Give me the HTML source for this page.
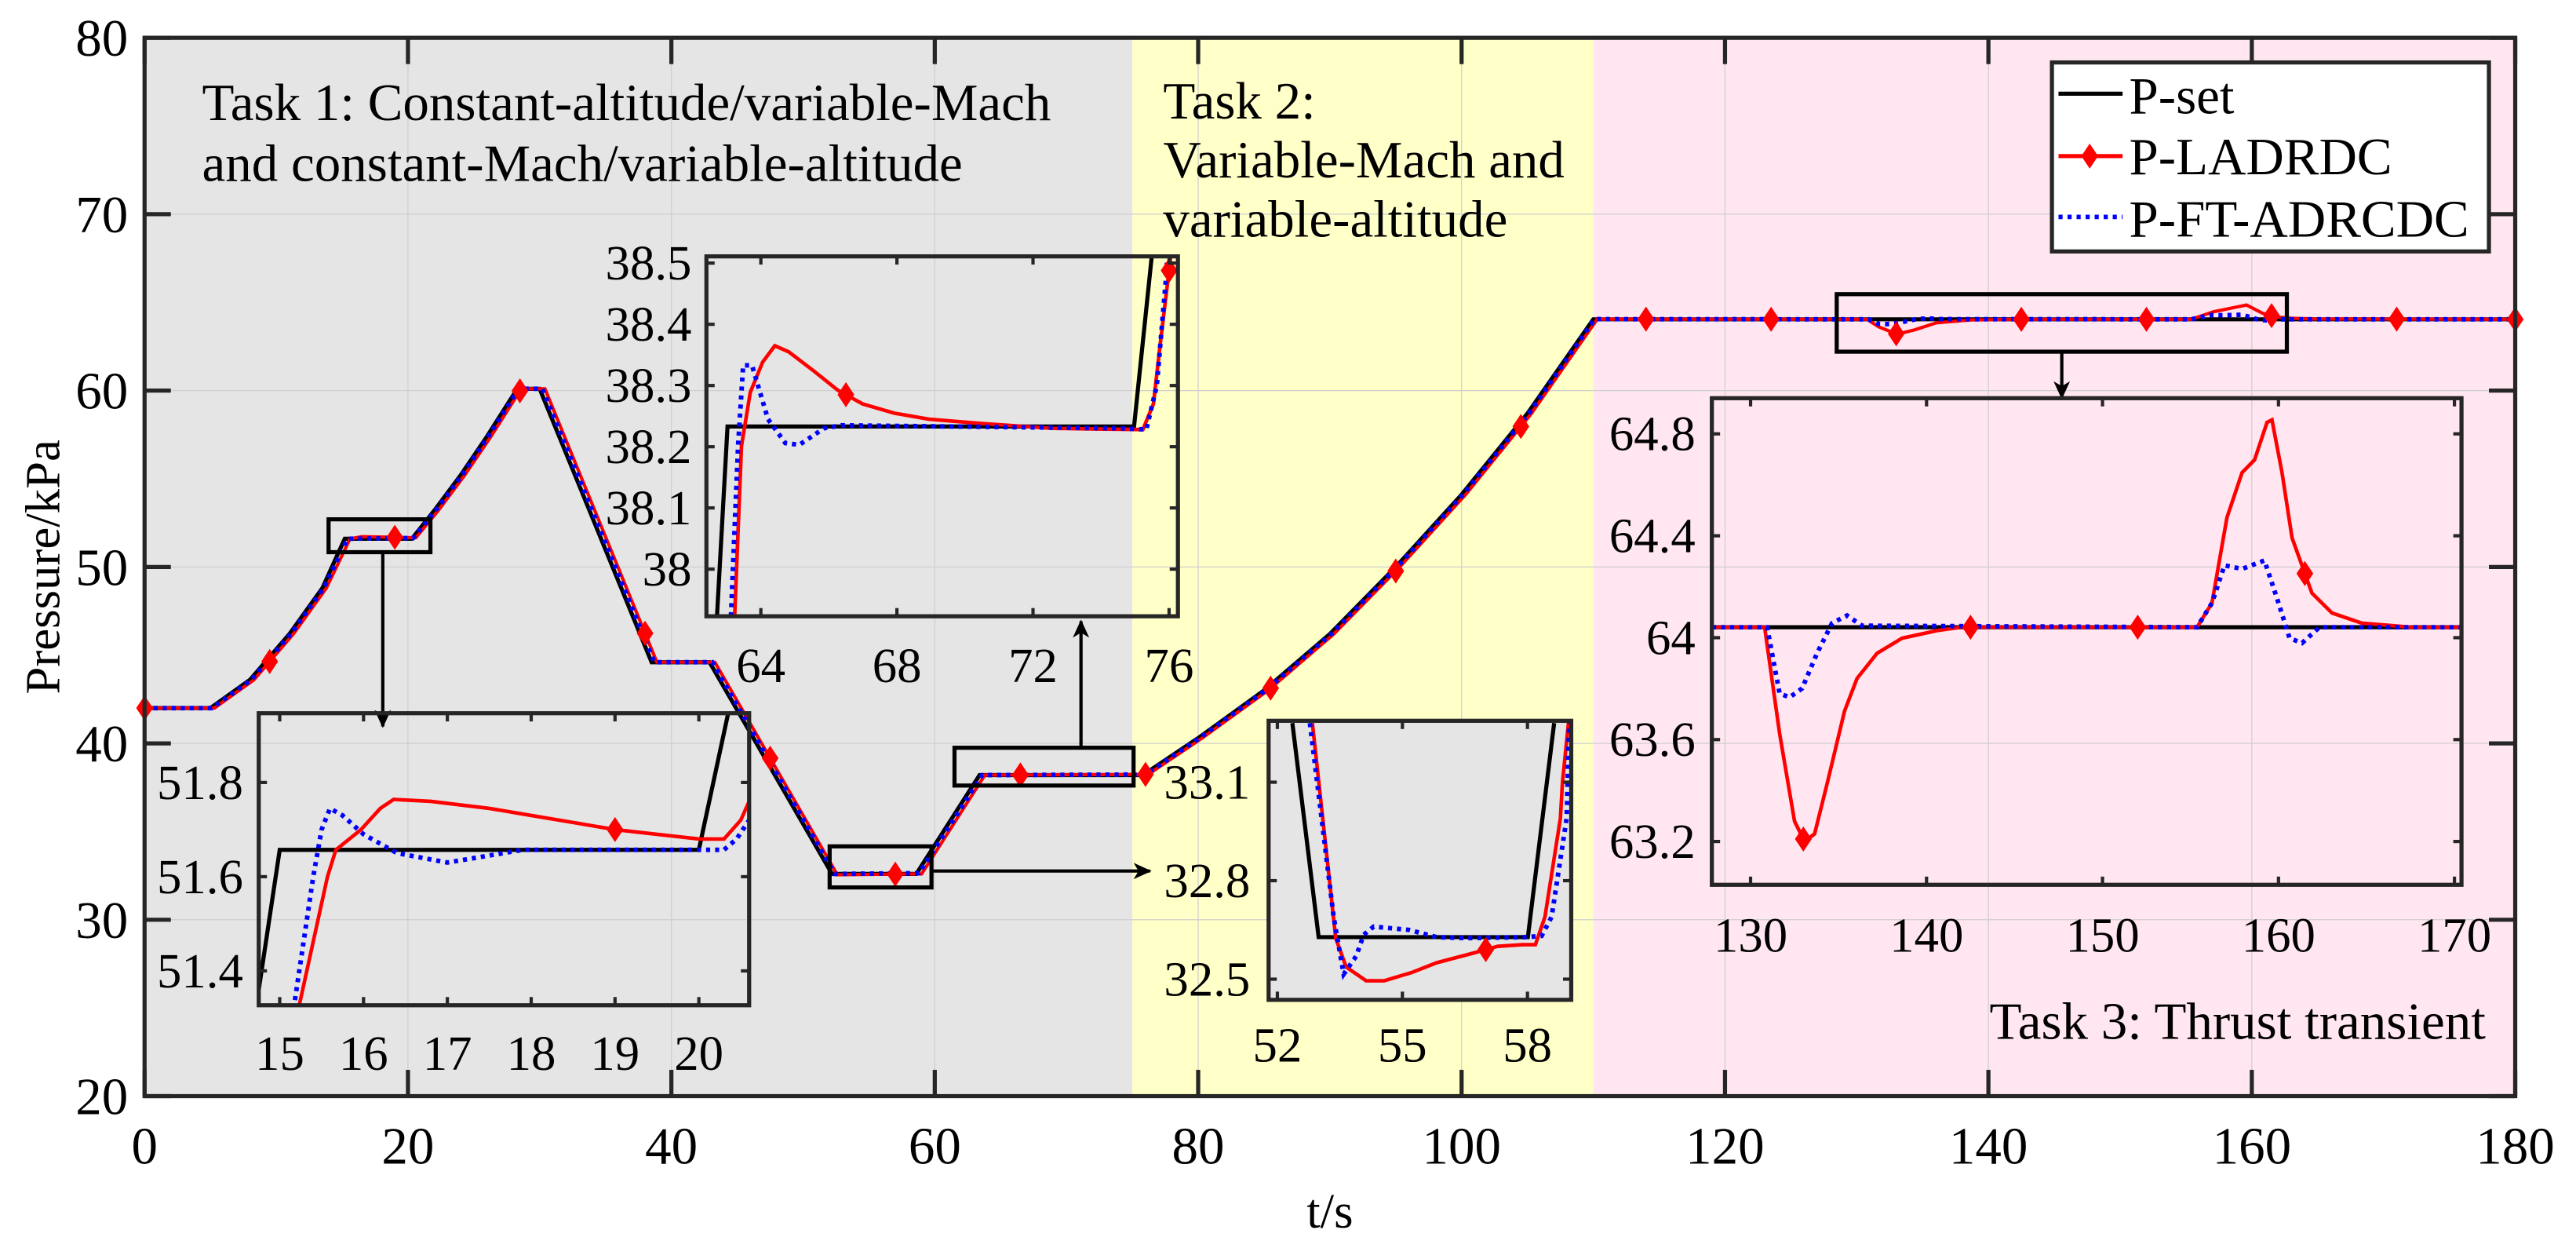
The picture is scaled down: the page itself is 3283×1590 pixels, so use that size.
<!DOCTYPE html>
<html><head><meta charset="utf-8"><style>
html,body{margin:0;padding:0;background:#fff;}
svg{display:block;font-family:"Liberation Serif",serif;}
</style></head><body>
<svg id="chart" width="3283" height="1590" viewBox="0 0 1568 759.4" preserveAspectRatio="none" xmlns="http://www.w3.org/2000/svg">
<defs>
<marker id="arrowhead" markerWidth="12" markerHeight="12" refX="10" refY="5" orient="auto" markerUnits="userSpaceOnUse"><path d="M0,0 L11,5 L0,10 L3,5 Z" fill="#000"/></marker>
</defs>
<g id="root"></g>
</svg>
<script>
// ---------- main data ----------
const xTicks = [0,20,40,60,80,100,120,140,160,180];
const yTicks = [20,30,40,50,60,70,80];
const taskStarts = [0,75,110];
const taskEnds = [75,110,180];
const taskColors = ['#e5e5e5','#ffffc8','#ffe6f0'];
const setT = [0,5,8,11,13.5,15.2,20.3,22,24,26,28.3,30,38.5,42.9,52.2,58.6,63.4,75.8,80,85,90,95,100,105,110,180];
const setP = [42,42,43.6,46.2,48.8,51.6,51.6,53.2,55.2,57.4,60.1,60.1,44.6,44.6,32.6,32.6,38.2,38.2,40.3,43,46.2,50,54.1,58.7,64.04,64.04];
const redT = [0,5.3,8.3,11.3,13.8,15.6,16.5,20.6,22.3,24.3,26.3,28.6,30.4,38.9,43.3,52.6,59,63.8,76.2,80.3,85.3,90.3,95.3,100.3,105.3,110.3,130.8,131.65,133.07,134.35,136.05,138.6,142,155.4,157.1,158.6,159.6,160.8,161.9,163,164.7,180];
const redP = [42,42,43.6,46.2,48.8,51.6,51.72,51.66,53.2,55.2,57.4,60.1,60.1,44.6,44.6,32.55,32.6,38.2,38.24,40.3,43,46.2,50,54.1,58.7,64.05,64.04,63.62,63.2,63.43,63.84,64.0,64.04,64.04,64.47,64.7,64.85,64.39,64.17,64.1,64.06,64.04];
const blueT = [0,5.1,8.1,11.1,13.6,15.4,20.4,22.1,24.1,26.1,28.4,30.2,38.7,43.1,52.4,58.8,63.6,76,80.1,85.1,90.1,95.1,100.1,105.1,110.1,130.9,131.65,132.2,132.9,133.8,134.6,135.5,136.3,155.4,156.9,157.9,159.2,159.9,160.6,161.3,162.3,180];
const blueP = [42,42,43.6,46.2,48.8,51.6,51.64,53.2,55.2,57.4,60.1,60.1,44.6,44.6,32.6,32.64,38.2,38.235,40.3,43,46.2,50,54.1,58.7,64.05,64.04,63.78,63.77,63.8,63.94,64.06,64.09,64.05,64.04,64.28,64.27,64.3,64.16,64.0,63.98,64.04,64.04];
const markerT = [0,9.5,19,28.5,38,47.5,57,66.5,76,85.5,95,104.5,114,123.5,133,142.5,152,161.5,171,180];

// ---------- inset data ----------
const insetAT = {set:[14.75,15.0,20.0,20.35], red:[15.2,15.57,15.67,15.97,16.2,16.36,16.8,17.5,18,18.5,19,19.5,20,20.3,20.5,20.6], blue:[15.15,15.4,15.5,15.6,15.75,16.0,16.4,17.0,17.5,17.9,20.3,20.45,20.6]};
const insetAP = {set:[51.36,51.657,51.657,51.947], red:[51.3,51.6,51.657,51.7,51.745,51.764,51.76,51.745,51.73,51.715,51.7,51.69,51.68,51.68,51.72,51.76], blue:[51.3,51.6,51.7,51.745,51.73,51.69,51.65,51.63,51.645,51.657,51.657,51.68,51.72]};
const insetAXTicks = [15,16,17,18,19,20];
const insetAYTicks = [51.4,51.6,51.8];
const insetBT = {set:[62.71,63.02,74.97,75.49], red:[63.23,63.43,63.69,64.05,64.41,64.82,65.55,66.27,66.99,67.91,68.94,70.49,72.55,75.23,75.54,75.74,76.05], blue:[63.12,63.33,63.48,63.74,64.21,64.72,65.13,65.85,66.37,74.61,75.33,75.64,75.9,75.95]};
const insetBP = {set:[37.923,38.233,38.233,38.511], red:[37.923,38.201,38.289,38.338,38.365,38.355,38.324,38.292,38.27,38.255,38.245,38.238,38.23,38.228,38.27,38.368,38.511], blue:[37.923,38.201,38.333,38.333,38.245,38.206,38.203,38.23,38.235,38.23,38.228,38.3,38.47,38.511]};
const insetBXTicks = [64,68,72,76];
const insetBYTicks = [38,38.1,38.2,38.3,38.4,38.5];
const insetCT = {set:[52.36,52.99,58.01,58.64], red:[52.84,53.40,53.65,54.13,54.56,55.22,55.82,56.72,57.28,57.88,58.19,58.42,58.79,58.84,59.0], blue:[52.78,53.35,53.59,53.89,54.07,54.31,55.16,55.82,56.54,57.98,58.34,58.58,58.94,59.0]};
const insetCP = {set:[33.28,32.628,32.628,33.28], red:[33.28,32.625,32.537,32.495,32.495,32.52,32.55,32.58,32.6,32.605,32.605,32.69,32.99,33.1,33.3], blue:[33.28,32.69,32.515,32.57,32.635,32.66,32.65,32.628,32.625,32.628,32.632,32.69,32.99,33.28]};
const insetCXTicks = [52,55,58];
const insetCYTicks = [32.5,32.8,33.1];
const insetDT = {set:[127,171], red:[127.81,130.8,131.65,132.5,133.07,133.64,134.35,135.34,136.05,137.19,138.61,140.6,141.96,155.37,156.22,157.07,157.93,158.64,159.35,159.63,160.2,160.77,161.9,163.04,164.74,167.59,170.4], blue:[127.81,130.94,131.65,132.22,132.93,133.78,134.63,135.48,136.34,155.37,156.22,156.93,157.93,159.2,159.91,160.63,161.34,162.33,170.4]};
const insetDP = {set:[64.041,64.041], red:[64.041,64.041,63.624,63.279,63.2,63.23,63.427,63.712,63.84,63.939,63.998,64.028,64.041,64.041,64.136,64.471,64.648,64.698,64.845,64.855,64.648,64.392,64.175,64.097,64.057,64.041,64.041], blue:[64.041,64.041,63.781,63.766,63.801,63.939,64.057,64.087,64.047,64.041,64.136,64.284,64.27,64.303,64.156,63.998,63.979,64.041,64.041]};
const insetDXTicks = [130,140,150,160,170];
const insetDYTicks = [63.2,63.6,64,64.4,64.8];

const NS = 'http://www.w3.org/2000/svg';
const root = document.getElementById('root');
function mk(tag, attrs, parent){
  const e = document.createElementNS(NS, tag);
  for (const k in attrs) e.setAttribute(k, attrs[k]);
  (parent||root).appendChild(e);
  return e;
}
function scale(d0,d1,r0,r1){ return v => r0 + (v-d0)/(d1-d0)*(r1-r0); }
function interp(ts,ps,t){
  if (t<=ts[0]) return ps[0];
  for (let i=1;i<ts.length;i++){ if (t<=ts[i]) return ps[i-1]+(ps[i]-ps[i-1])*(t-ts[i-1])/(ts[i]-ts[i-1]); }
  return ps[ps.length-1];
}
function pathD(ts,ps,X,Y){ return ts.map((t,i)=>(i?'L':'M')+X(t).toFixed(2)+','+Y(ps[i]).toFixed(2)).join(''); }
function diamond(g,x,y,s){
  const d = mk('path',{d:`M${x},${y-s*1.5}L${x+s},${y}L${x},${y+s*1.5}L${x-s},${y}Z`, fill:'#ff0000', stroke:'#ff0000','stroke-width':1}, g);
  
  
}
function txt(g,x,y,s,size,anchor){
  const t = mk('text',{x:x,y:y,'font-size':size,'text-anchor':anchor||'start',fill:'#000'}, g);
  t.textContent = s;
  return t;
}

// ---------- main plot ----------
const L=88, R=1531, T=23, B=667;
const X = scale(0,180,L,R);
const Y = scale(20,80,B,T);
const gm = mk('g',{});


taskStarts.forEach((s,i)=>{
  const r = mk('rect',{x:X(s),y:T,width:X(taskEnds[i])-X(s),height:B-T,fill:taskColors[i]},gm);
  
  
});
xTicks.forEach(v=>{
  const gl = mk('line',{x1:X(v),x2:X(v),y1:T,y2:B,stroke:'#cfcfcf','stroke-width':0.6},gm);
  
  
});
yTicks.forEach(v=>{
  const gl = mk('line',{x1:L,x2:R,y1:Y(v),y2:Y(v),stroke:'#cfcfcf','stroke-width':0.6},gm);
  
  
});

// task labels
const tl = mk('g',{},gm);


txt(tl,123,73,'Task 1: Constant-altitude/variable-Mach',32);
txt(tl,123,110,'and constant-Mach/variable-altitude',32);
txt(tl,708,72,'Task 2:',32);
txt(tl,708,108,'Variable-Mach and',32);
txt(tl,708,144,'variable-altitude',32);
txt(tl,1513,632,'Task 3: Thrust transient',32,'end');

// series
const sSet = mk('path',{d:pathD(setT,setP,X,Y),fill:'none',stroke:'#000','stroke-width':2.5},gm);


const sRed = mk('path',{d:pathD(redT,redP,X,Y),fill:'none',stroke:'#ff0000','stroke-width':2},gm);


const sBlue = mk('path',{d:pathD(blueT,blueP,X,Y),fill:'none',stroke:'#0000ff','stroke-width':2.8,'stroke-dasharray':'2.5 3'},gm);


markerT.forEach(t=>diamond(gm,X(t),Y(interp(redT,redP,t)),4.5));

// axes box & ticks
const ax = mk('rect',{x:L,y:T,width:R-L,height:B-T,fill:'none',stroke:'#262626','stroke-width':2.5},gm);


xTicks.forEach(v=>{
  const t1 = mk('line',{x1:X(v),x2:X(v),y1:B,y2:B-16,stroke:'#262626','stroke-width':2.5},gm);
  
  
  const t2 = mk('line',{x1:X(v),x2:X(v),y1:T,y2:T+16,stroke:'#262626','stroke-width':2.5},gm);
  
  
  const lb = txt(gm,X(v),708,String(v),32,'middle');
  
  
});
yTicks.forEach(v=>{
  const t1 = mk('line',{x1:L,x2:L+16,y1:Y(v),y2:Y(v),stroke:'#262626','stroke-width':2.5},gm);
  
  
  const t2 = mk('line',{x1:R,x2:R-16,y1:Y(v),y2:Y(v),stroke:'#262626','stroke-width':2.5},gm);
  
  
  const lb = txt(gm,78,Y(v)+11,String(v),32,'end');
  
  
});
const xt = txt(gm,(L+R)/2,747,'t/s',30,'middle');


const yt = mk('text',{x:0,y:0,'font-size':30,'text-anchor':'middle',transform:`translate(36,${(T+B)/2}) rotate(-90)`},gm);
yt.textContent='Pressure/kPa';



// zoom boxes and arrows
function zoomBox(x,y,w,h,name){
  const r = mk('rect',{x:x,y:y,width:w,height:h,fill:'none',stroke:'#000','stroke-width':2.5},gm);
  
  
}
function arrow(x1,y1,x2,y2,name){
  const a = mk('line',{x1:x1,y1:y1,x2:x2,y2:y2,stroke:'#000','stroke-width':2,'marker-end':'url(#arrowhead)'},gm);
  
  
}
zoomBox(200,316,62,20,'zoom-box-a');
zoomBox(581,455,109,23,'zoom-box-b');
zoomBox(505,515,62,25,'zoom-box-c');
zoomBox(1118,179,274,35,'zoom-box-d');
arrow(233,336,233,442,'arrow-a');
arrow(658,455,658,378,'arrow-b');
arrow(567,530,700,530,'arrow-c');
arrow(1255,214,1255,242,'arrow-d');

// ---------- insets ----------
let clipId=0;
function inset(name,x0,y0,x1,y1,tr,pr,TT,PP,xt,yt,bg,xlabY,ylabX){
  const g = mk('g',{});
  
  
  const IX = scale(tr[0],tr[1],x0,x1), IY = scale(pr[0],pr[1],y1,y0);
  if (bg){
    const r = mk('rect',{x:x0,y:y0,width:x1-x0,height:y1-y0,fill:bg},g);
    
    
  }
  clipId++;
  const cp = mk('clipPath',{id:'cl'+clipId},g);
  mk('rect',{x:x0,y:y0,width:x1-x0,height:y1-y0},cp);
  const gc = mk('g',{'clip-path':`url(#cl${clipId})`},g);
  const a = mk('path',{d:pathD(TT.set,PP.set,IX,IY),fill:'none',stroke:'#000','stroke-width':2.5},gc);
  
  
  const b = mk('path',{d:pathD(TT.red,PP.red,IX,IY),fill:'none',stroke:'#ff0000','stroke-width':2.2},gc);
  
  
  const c = mk('path',{d:pathD(TT.blue,PP.blue,IX,IY),fill:'none',stroke:'#0000ff','stroke-width':2.8,'stroke-dasharray':'2.5 3'},gc);
  
  
  markerT.forEach(t=>{ if (t>tr[0] && t<tr[1]) diamond(gc,IX(t),IY(interp(TT.red,PP.red,t)),4.5); });
  const bx = mk('rect',{x:x0,y:y0,width:x1-x0,height:y1-y0,fill:'none',stroke:'#262626','stroke-width':2.5},g);
  
  
  xt.forEach(v=>{
    mk('line',{x1:IX(v),x2:IX(v),y1:y1,y2:y1-5,stroke:'#262626','stroke-width':2},g);
    mk('line',{x1:IX(v),x2:IX(v),y1:y0,y2:y0+5,stroke:'#262626','stroke-width':2},g);
    const l = txt(g,IX(v),xlabY,String(v),30,'middle');
    
    
  });
  yt.forEach(v=>{
    mk('line',{x1:x0,x2:x0+5,y1:IY(v),y2:IY(v),stroke:'#262626','stroke-width':2},g);
    mk('line',{x1:x1,x2:x1-5,y1:IY(v),y2:IY(v),stroke:'#262626','stroke-width':2},g);
    const l = txt(g,ylabX,IY(v)+10,String(v),30,'end');
    
    
  });
}
inset('inset-a',157.5,434,456,611.7,[14.75,20.6],[51.327,51.947],insetAT,insetAP,insetAXTicks,insetAYTicks,null,651,148);
inset('inset-b',430,156,717,375,[62.40,76.26],[37.923,38.511],insetBT,insetBP,insetBXTicks,insetBYTicks,null,415,421);
inset('inset-c',772.2,438.6,956.4,608.4,[51.79,59.05],[32.437,33.287],insetCT,insetCP,insetCXTicks,insetCYTicks,'#e5e5e5',646,761);
inset('inset-d',1042,242.3,1498.3,538.4,[127.8,170.4],[63.03,64.94],insetDT,insetDP,insetDXTicks,insetDYTicks,null,579,1032);

// ---------- legend ----------
const lg = mk('g',{});


const lb = mk('rect',{x:1249,y:38,width:266,height:115,fill:'#fff',stroke:'#262626','stroke-width':2.5},lg);


const e1 = mk('line',{x1:1253,x2:1292,y1:57,y2:57,stroke:'#000','stroke-width':2.5},lg);


const t1 = txt(lg,1296,69,'P-set',32);  
const e2 = mk('line',{x1:1253,x2:1292,y1:95,y2:95,stroke:'#ff0000','stroke-width':2.5},lg);


diamond(lg,1272,95,4.5);
const t2 = txt(lg,1296,106,'P-LADRDC',32);  
const e3 = mk('line',{x1:1253,x2:1292,y1:132,y2:132,stroke:'#0000ff','stroke-width':2.8,'stroke-dasharray':'2.5 3'},lg);


const t3 = txt(lg,1296,144,'P-FT-ADRCDC',32);  
</script>
</body></html>
